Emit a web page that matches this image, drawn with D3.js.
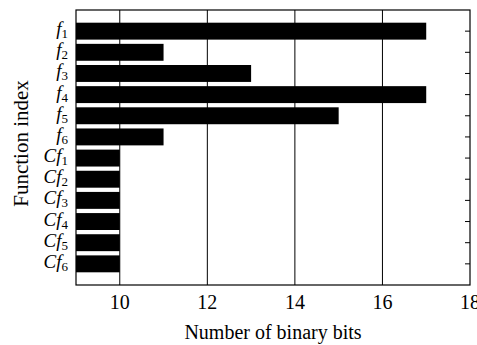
<!DOCTYPE html>
<html>
<head>
<meta charset="utf-8">
<script src="https://cdn.jsdelivr.net/npm/d3@7"></script>
<style>
  body { margin: 0; background: #fff; }
</style>
</head>
<body>
<script>
// function index labels: prefix (italic) + subscript number
const prefixes = ['f', 'f', 'f', 'f', 'f', 'f', 'Cf', 'Cf', 'Cf', 'Cf', 'Cf', 'Cf']
const subs = ['1', '2', '3', '4', '5', '6', '1', '2', '3', '4', '5', '6']
const bits = [17, 11, 13, 17, 15, 11, 10, 10, 10, 10, 10, 10]
const xTicks = [10, 12, 14, 16, 18]

const width = 477, height = 345
const margin = { top: 10, right: 7, bottom: 60, left: 76 }
const serif = "'Liberation Serif', Tinos, 'Times New Roman', Times, 'DejaVu Serif', serif"

const svg = d3.select('body').append('svg')
    .attr('width', width)
    .attr('height', height)
    .attr('font-family', serif)

const x = d3.scaleLinear().domain([9, 18]).range([margin.left, width - margin.right])
const y = d3.scalePoint().domain(d3.range(bits.length)).range([margin.top, height - margin.bottom]).padding(1)
const barH = y.step() * 0.8

// grid lines
svg.append('g')
    .selectAll('line')
    .data(xTicks.slice(0, -1))
    .enter()
    .append('line')
    .attr('x1', d => x(d)).attr('x2', d => x(d))
    .attr('y1', margin.top).attr('y2', height - margin.bottom)
    .attr('stroke', '#000')
    .attr('stroke-width', 1)

// bars
svg.append('g')
    .selectAll('rect')
    .data(bits)
    .enter()
    .append('rect')
    .attr('x', x(9))
    .attr('y', (d, i) => y(i) - barH / 2)
    .attr('width', d => x(d) - x(9))
    .attr('height', barH)
    .attr('fill', '#000')

// frame
svg.append('rect')
    .attr('x', margin.left).attr('y', margin.top)
    .attr('width', width - margin.right - margin.left)
    .attr('height', height - margin.bottom - margin.top)
    .attr('fill', 'none')
    .attr('stroke', '#000')
    .attr('stroke-width', 1.2)

// right side inner ticks
svg.append('g')
    .selectAll('line')
    .data(bits)
    .enter()
    .append('line')
    .attr('x1', width - margin.right - 5).attr('x2', width - margin.right)
    .attr('y1', (d, i) => y(i)).attr('y2', (d, i) => y(i))
    .attr('stroke', '#000')

// x axis tick labels (the last one runs off the edge, as in the original)
svg.append('g')
    .selectAll('text')
    .data(xTicks)
    .enter()
    .append('text')
    .attr('x', d => x(d))
    .attr('y', height - margin.bottom + 24)
    .attr('text-anchor', 'middle')
    .attr('font-size', 20)
    .text(d => d)

// y labels
const yl = svg.append('g')
    .selectAll('text')
    .data(prefixes)
    .enter()
    .append('text')
    .attr('x', margin.left - 8)
    .attr('y', (d, i) => y(i) + 4)
    .attr('text-anchor', 'end')
    .attr('font-size', 19)
yl.append('tspan').attr('font-style', 'italic').text(d => d)
yl.append('tspan').attr('dy', 3).attr('font-size', 13).text((d, i) => subs[i])

// axis titles
svg.append('text')
    .attr('x', (margin.left + width - margin.right) / 2)
    .attr('y', height - 6)
    .attr('text-anchor', 'middle')
    .attr('font-size', 20)
    .text('Number of binary bits')

svg.append('text')
    .attr('transform', `translate(28,${(margin.top + height - margin.bottom) / 2 - 4}) rotate(-90)`)
    .attr('text-anchor', 'middle')
    .attr('font-size', 21)
    .text('Function index')
</script>
</body>
</html>
